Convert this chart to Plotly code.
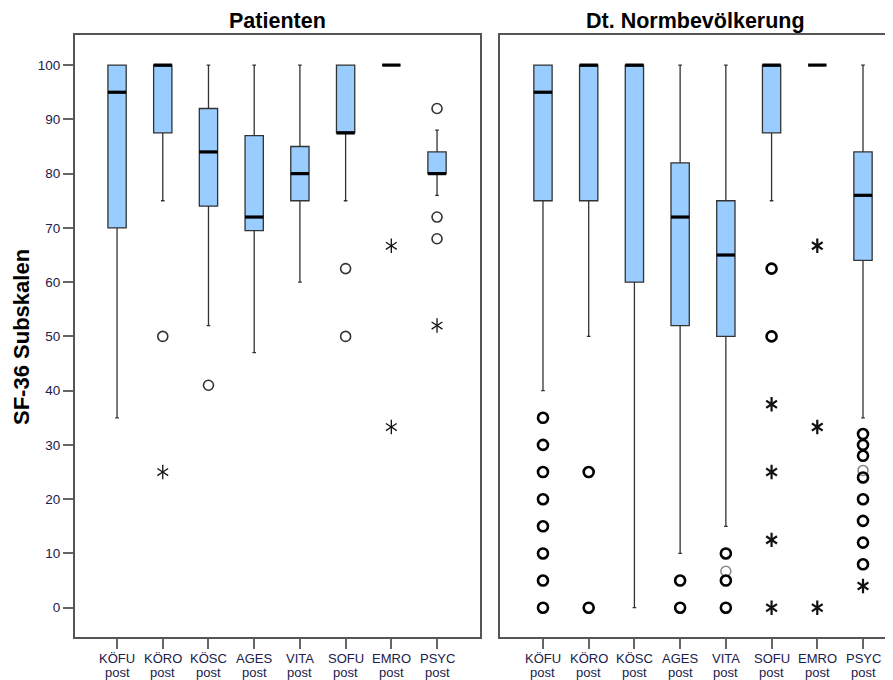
import plotly.graph_objects as go

categories = ["KÖFU", "KÖRO", "KÖSC", "AGES", "VITA", "SOFU", "EMRO", "PSYC"]
tick_sub = "post"
y_ticks = [0, 10, 20, 30, 40, 50, 60, 70, 80, 90, 100]

# Patienten
pat_lower = [35, 75, 52, 47, 60, 75, 100, 76]
pat_q1 = [70, 87.5, 74, 69.5, 75, 87.5, 100, 80]
pat_median = [95, 100, 84, 72, 80, 87.5, 100, 80]
pat_q3 = [100, 100, 92, 87, 85, 100, 100, 84]
pat_upper = [100, 100, 100, 100, 100, 100, 100, 88]
pat_circ_cat = ["KÖRO", "KÖSC", "SOFU", "SOFU", "PSYC", "PSYC", "PSYC"]
pat_circ_val = [50, 41, 62.5, 50, 92, 72, 68]
pat_star_cat = ["KÖRO", "EMRO", "EMRO", "PSYC"]
pat_star_val = [25, 66.7, 33.3, 52]

# Dt. Normbevölkerung
norm_lower = [40, 50, 0, 10, 15, 75, 100, 35]
norm_q1 = [75, 75, 60, 52, 50, 87.5, 100, 64]
norm_median = [95, 100, 100, 72, 65, 100, 100, 76]
norm_q3 = [100, 100, 100, 82, 75, 100, 100, 84]
norm_upper = [100, 100, 100, 100, 100, 100, 100, 100]
norm_circ_cat = ["KÖFU"] * 8 + ["KÖRO", "KÖRO", "AGES", "AGES", "VITA", "VITA", "VITA",
                                "SOFU", "SOFU"] + ["PSYC"] * 8
norm_circ_val = [35, 30, 25, 20, 15, 10, 5, 0, 25, 0, 5, 0, 10, 5, 0, 62.5, 50,
                 32, 30, 28, 24, 20, 16, 12, 8]
norm_faint_cat = ["VITA", "PSYC"]
norm_faint_val = [6.7, 25.3]
norm_star_cat = ["SOFU", "SOFU", "SOFU", "SOFU", "EMRO", "EMRO", "EMRO", "PSYC"]
norm_star_val = [37.5, 25, 12.5, 0, 66.7, 33.3, 0, 4]

BOX_W = 0.4
FILL = "#99CCFF"
FONT = "Liberation Sans, Arial, sans-serif"
TICKCOL = "#20204a"

# page offset (body margin) compensation: figure pixel = reference pixel - 8
OFF = 8
W, H = 893 - OFF, 680 - OFF


def px_x(p):
    return (p - OFF) / W


def px_y(p):
    return (H - (p - OFF)) / H


def idx(cats):
    return [categories.index(c) for c in cats]


fig = go.Figure()


def add_stars(xa, ya, cats, vals, lw, size):
    for sym in ("y-up-open", "y-down-open"):
        fig.add_trace(go.Scatter(x=idx(cats), y=vals, mode="markers",
                                 marker=dict(symbol=sym, size=size,
                                             line=dict(color="#111111", width=lw),
                                             color="#111111"),
                                 xaxis=xa, yaxis=ya, showlegend=False))


def add_panel(xa, ya, lower, q1, med, q3, upper, circ_c, circ_v, star_c, star_v,
              circ_lw, circ_col, star_lw, faint_c=None, faint_v=None):
    xs = list(range(len(categories)))
    fig.add_trace(go.Box(
        x=xs, q1=q1, median=med, q3=q3, lowerfence=lower, upperfence=upper,
        width=BOX_W, whiskerwidth=0.2, fillcolor=FILL,
        line=dict(color="#333333", width=1.3), boxpoints=False,
        xaxis=xa, yaxis=ya, showlegend=False, hoverinfo="skip"))
    mx, my = [], []
    for i, m in enumerate(med):
        mx += [i - BOX_W / 2, i + BOX_W / 2, None]
        my += [m, m, None]
    fig.add_trace(go.Scatter(x=mx, y=my, mode="lines",
                             line=dict(color="black", width=3.2),
                             xaxis=xa, yaxis=ya, showlegend=False, hoverinfo="skip"))
    if faint_c:
        fig.add_trace(go.Scatter(x=idx(faint_c), y=faint_v, mode="markers",
                                 marker=dict(symbol="circle-open", size=10,
                                             line=dict(color="#888888", width=1.5),
                                             color="#888888"),
                                 xaxis=xa, yaxis=ya, showlegend=False))
    fig.add_trace(go.Scatter(x=idx(circ_c), y=circ_v, mode="markers",
                             marker=dict(symbol="circle-open", size=10,
                                         line=dict(color=circ_col, width=circ_lw),
                                         color=circ_col),
                             xaxis=xa, yaxis=ya, showlegend=False))
    add_stars(xa, ya, star_c, star_v, star_lw, 9)


add_panel("x", "y", pat_lower, pat_q1, pat_median, pat_q3, pat_upper,
          pat_circ_cat, pat_circ_val, pat_star_cat, pat_star_val, 1.6, "#333333", 1.3)
add_panel("x2", "y2", norm_lower, norm_q1, norm_median, norm_q3, norm_upper,
          norm_circ_cat, norm_circ_val, norm_star_cat, norm_star_val, 2.6, "#000000", 2.2,
          norm_faint_cat, norm_faint_val)

ydom = [px_y(637), px_y(35)]
yrange = [-5.4, 105.55]

xaxis_common = dict(
    tickmode="array", tickvals=list(range(8)), ticktext=categories,
    showticklabels=False,
    ticks="outside", ticklen=10, tickwidth=1.5, tickcolor="#666666",
    showgrid=False, zeroline=False, showline=True, linecolor="#555555", linewidth=2,
    mirror=True, automargin=False,
)

annotations = [
    dict(text="<b>Patienten</b>", x=px_x((75 + 480) / 2), y=px_y(21),
         xref="paper", yref="paper", showarrow=False, xanchor="center",
         yanchor="middle", font=dict(family=FONT, size=21.5, color="black")),
    dict(text="<b>Dt. Normbevölkerung</b>", x=px_x(695), y=px_y(21),
         xref="paper", yref="paper", showarrow=False, xanchor="center",
         yanchor="middle", font=dict(family=FONT, size=21.5, color="black")),
    dict(text="<b>SF-36 Subskalen</b>", x=px_x(21), y=px_y(337),
         xref="paper", yref="paper", showarrow=False, textangle=-90,
         xanchor="center", yanchor="middle",
         font=dict(family=FONT, size=22, color="black")),
]
for xr in ("x", "x2"):
    for i, c in enumerate(categories):
        annotations.append(dict(text=c, x=i, xref=xr, y=px_y(658), yref="paper",
                                showarrow=False, xanchor="center", yanchor="middle",
                                font=dict(family=FONT, size=13, color=TICKCOL)))
        annotations.append(dict(text=tick_sub, x=i, xref=xr, y=px_y(672), yref="paper",
                                showarrow=False, xanchor="center", yanchor="middle",
                                font=dict(family=FONT, size=13, color=TICKCOL)))

fig.update_layout(
    width=W, height=H, margin=dict(l=0, r=0, t=0, b=0, autoexpand=False),
    paper_bgcolor="white", plot_bgcolor="white",
    xaxis=dict(domain=[px_x(75), px_x(480)], range=[-0.92, 7.94], anchor="y",
               **xaxis_common),
    xaxis2=dict(domain=[px_x(500), 1.0], range=[-0.94, 7.656], anchor="y2",
                **xaxis_common),
    yaxis=dict(domain=ydom, range=yrange, anchor="x", tickmode="array",
               tickvals=y_ticks, ticks="outside", ticklen=10, tickwidth=1.5,
               tickcolor="#666666",
               tickfont=dict(family=FONT, size=13.5, color=TICKCOL),
               showgrid=False, zeroline=False, showline=True, linecolor="#555555",
               linewidth=2, mirror=True, automargin=False),
    yaxis2=dict(domain=ydom, range=yrange, anchor="x2", showticklabels=False,
                ticks="", showgrid=False, zeroline=False, showline=True,
                linecolor="#555555", linewidth=2, mirror=False, automargin=False),
    annotations=annotations,
)

fig.write_html("out.html")
